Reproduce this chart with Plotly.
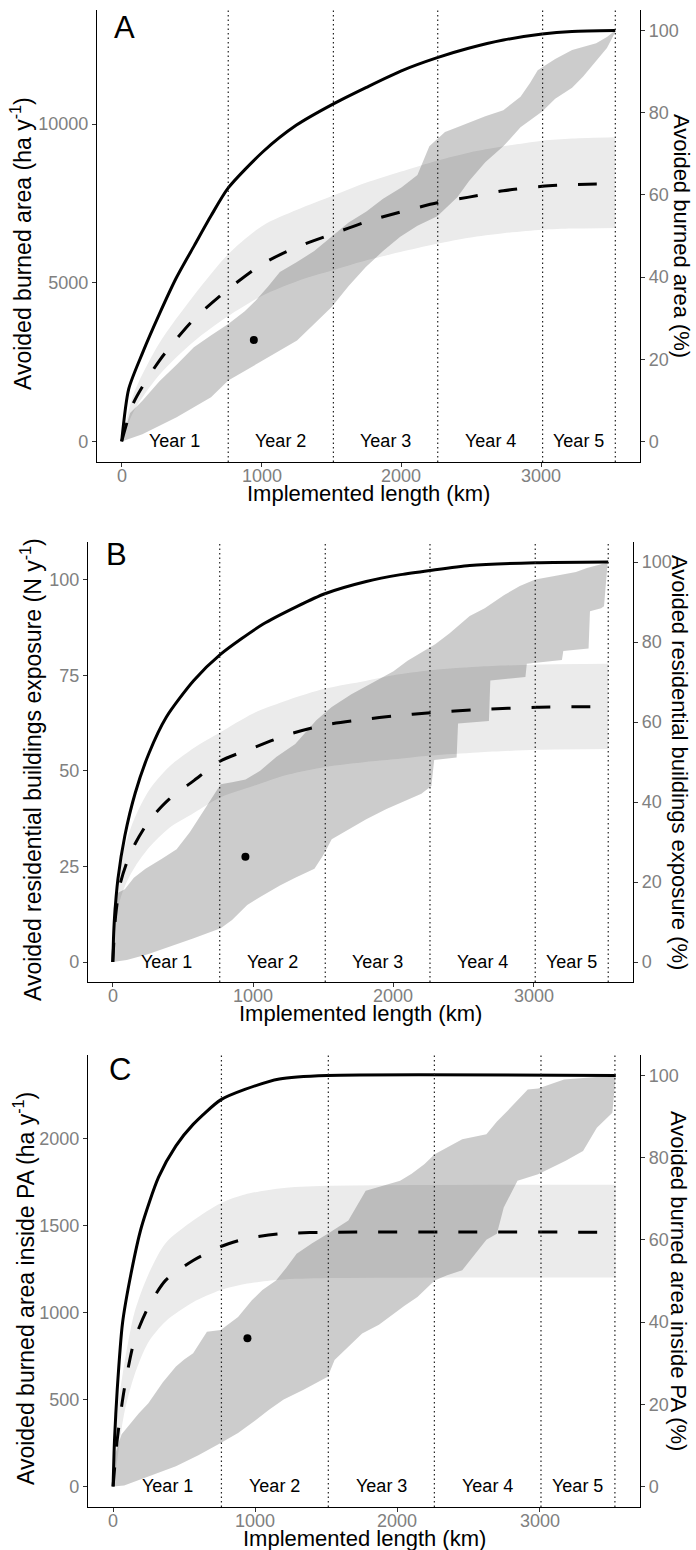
import plotly.graph_objects as go

W, H = 696, 1550
FONT = "Liberation Sans, Arial, sans-serif"

# ---------------- data ----------------
YEAR_BREAKS = [762, 1514, 2260, 3010, 3530]
YEAR_LABELS = ["Year 1", "Year 2", "Year 3", "Year 4", "Year 5"]
X_TICKS = [0, 1000, 2000, 3000]
PCT_TICKS = [0, 20, 40, 60, 80, 100]
POINT_X = 945

# Panel A : avoided burned area (ha y-1)
A_TICKS = [0, 5000, 10000]
A_SOLID_X = [0, 50, 150, 270, 390, 520, 640, 762, 1010, 1250, 1514, 1750, 2000, 2257, 2480, 2730, 3007, 3220, 3530]
A_SOLID_Y = [0, 1650, 2800, 4020, 5150, 6180, 7120, 7990, 9130, 9970, 10640, 11160, 11680, 12095, 12390, 12650, 12840, 12920, 12950]
A_MEAN_X = [0, 86, 270, 516, 762, 1008, 1254, 1514, 1746, 1992, 2257, 2483, 2729, 3007, 3221, 3529]
A_MEAN_Y = [0, 1230, 2550, 3850, 4800, 5600, 6130, 6550, 6920, 7230, 7520, 7700, 7900, 8040, 8095, 8120]
A_MEAN_HI = [0, 1500, 3100, 4600, 5900, 6800, 7300, 7750, 8150, 8500, 8850, 9100, 9300, 9480, 9550, 9590]
A_MEAN_LO = [0, 950, 2100, 3150, 3950, 4600, 5050, 5400, 5700, 5970, 6230, 6420, 6560, 6670, 6710, 6730]
A_RAND_HI_X = [0, 60, 148, 270, 400, 516, 640, 762, 880, 959, 1050, 1131, 1250, 1377, 1500, 1623, 1750, 1869, 2000, 2115, 2200, 2312, 2400, 2483, 2600, 2729, 2800, 2852, 2920, 2975, 3100, 3221, 3393, 3470, 3529]
A_RAND_HI_Y = [0, 900, 1280, 1900, 2450, 2970, 3350, 3700, 4100, 4440, 4900, 5340, 5650, 6000, 6450, 6900, 7250, 7650, 8000, 8400, 9300, 9750, 9900, 10050, 10250, 10440, 10700, 10860, 11300, 11700, 12050, 12340, 12550, 12750, 12950]
A_RAND_LO_X = [0, 148, 393, 639, 762, 1008, 1254, 1500, 1623, 1746, 1869, 1992, 2115, 2257, 2400, 2483, 2600, 2729, 2852, 3007, 3100, 3221, 3300, 3393, 3470, 3529]
A_RAND_LO_Y = [0, 230, 760, 1390, 1920, 2550, 3180, 4230, 4900, 5500, 6000, 6450, 6800, 7100, 7700, 8200, 8800, 9300, 9900, 10400, 10800, 11150, 11500, 12000, 12400, 12900]
A_POINT_Y = 3200

# Panel B : avoided residential buildings exposure (N y-1)
B_TICKS = [0, 25, 50, 75, 100]
B_SOLID_X = [0, 5, 12, 37, 86, 160, 258, 381, 577, 769, 1069, 1314, 1511, 1806, 2051, 2260, 2543, 3010, 3530]
B_SOLID_Y = [0, 6, 11.4, 21.8, 33, 44.2, 54.6, 64, 73.6, 80.5, 88.3, 93, 96.3, 99.5, 101.3, 102.4, 103.7, 104.4, 104.6]
B_MEAN_X = [0, 20, 50, 100, 160, 260, 400, 580, 764, 1000, 1250, 1514, 1800, 2000, 2264, 2600, 3021, 3530]
B_MEAN_Y = [0, 12, 20, 26, 31, 37, 42.5, 47.5, 52.5, 56, 59.5, 62, 63.5, 64.3, 65.2, 66, 66.6, 66.8]
B_MEAN_HI = [0, 15, 25, 32, 38, 45, 51, 56, 60, 65, 68.5, 71.5, 73.5, 75, 76.3, 77.2, 77.8, 78]
B_MEAN_LO = [0, 9, 16, 21, 25, 30, 35, 39, 43, 46, 49, 51, 52.3, 53, 54, 54.8, 55.5, 55.7]
B_RAND_HI_X = [0, 5, 30, 86, 150, 233, 350, 455, 550, 651, 769, 850, 946, 1050, 1167, 1300, 1450, 1560, 1700, 1880, 2000, 2100, 2200, 2297, 2400, 2543, 2650, 2789, 2900, 3010, 3157, 3300, 3378, 3526]
B_RAND_HI_Y = [0, 14, 18, 19, 22, 24.4, 27, 29.5, 34, 39.9, 46.5, 47, 47.7, 50, 53.7, 57, 63.2, 66.7, 70, 73.6, 76, 78.8, 81, 83.1, 86, 90.5, 92.5, 96, 98.3, 100, 101, 102, 103, 104.5]
B_RAND_LO_X = [0, 100, 250, 400, 577, 769, 850, 958, 1050, 1191, 1300, 1437, 1500, 1560, 1700, 1806, 1950, 2051, 2199, 2270, 2290, 2450, 2460, 2680, 2690, 2940, 2950, 3200, 3210, 3390, 3400, 3480, 3500, 3526]
B_RAND_LO_Y = [0, 0.5, 2, 4, 6.2, 8.8, 11, 14.9, 17, 20, 22, 24.4, 28, 32.1, 35, 37.3, 40, 41.6, 44, 46, 52.8, 53.5, 62.4, 63, 73.6, 74.5, 78, 79, 81.3, 82, 91.7, 92.5, 93, 104.5]
B_POINT_Y = 27.5

# Panel C : avoided burned area inside PA (ha y-1)
C_TICKS = [0, 500, 1000, 1500, 2000]
C_SOLID_X = [0, 10, 29, 66, 126, 199, 320, 442, 563, 757, 927, 1170, 1505, 3536]
C_SOLID_Y = [0, 269, 556, 938, 1224, 1492, 1780, 1960, 2084, 2225, 2285, 2345, 2365, 2365]
C_MEAN_X = [0, 29, 78, 150, 248, 369, 563, 757, 927, 1170, 1505, 3536]
C_MEAN_Y = [0, 269, 556, 842, 1033, 1186, 1301, 1380, 1425, 1454, 1463, 1463]
C_MEAN_HI = [0, 420, 700, 1000, 1220, 1400, 1530, 1630, 1680, 1715, 1730, 1736]
C_MEAN_LO = [0, 150, 420, 640, 830, 950, 1060, 1130, 1165, 1190, 1200, 1202]
C_RAND_HI_X = [0, 17, 60, 126, 180, 248, 350, 442, 500, 563, 660, 757, 879, 976, 1050, 1146, 1220, 1291, 1400, 1510, 1600, 1655, 1777, 1900, 2019, 2100, 2189, 2262, 2350, 2456, 2626, 2700, 2772, 2850, 2917, 2990, 3100, 3172, 3536]
C_RAND_HI_Y = [0, 193, 300, 365, 420, 479, 600, 690, 730, 766, 890, 900, 976, 1072, 1130, 1186, 1260, 1339, 1400, 1454, 1500, 1530, 1702, 1730, 1759, 1800, 1855, 1912, 1950, 1998, 2027, 2100, 2160, 2230, 2285, 2290, 2320, 2342, 2365]
C_RAND_LO_X = [0, 78, 248, 442, 600, 757, 879, 1000, 1097, 1200, 1340, 1510, 1558, 1650, 1752, 1870, 1947, 2050, 2141, 2262, 2350, 2456, 2626, 2700, 2748, 2845, 2990, 3100, 3184, 3306, 3403, 3512, 3536]
C_RAND_LO_Y = [0, 6, 59, 117, 180, 250, 308, 380, 441, 500, 556, 632, 728, 800, 881, 930, 976, 1040, 1091, 1186, 1215, 1244, 1420, 1455, 1606, 1759, 1797, 1840, 1874, 1931, 2065, 2151, 2365]
C_POINT_Y = 853

# ---------------- layout geometry (pixels) ----------------
PANELS = [
    dict(key="A", solid=(A_SOLID_X, A_SOLID_Y), mean=(A_MEAN_X, A_MEAN_Y, A_MEAN_HI, A_MEAN_LO),
         rand=(A_RAND_HI_X, A_RAND_HI_Y, A_RAND_LO_X, A_RAND_LO_Y), pt=A_POINT_Y, ticks=A_TICKS,
         box=(97, 640, 10, 462), letter=(125, 27),
         ytitle="Avoided burned area (ha y<sup>-1</sup>)", ytitle_x=21,
         rtitle="Avoided burned area (%)", rtitle_x=681),
    dict(key="B", solid=(B_SOLID_X, B_SOLID_Y), mean=(B_MEAN_X, B_MEAN_Y, B_MEAN_HI, B_MEAN_LO),
         rand=(B_RAND_HI_X, B_RAND_HI_Y, B_RAND_LO_X, B_RAND_LO_Y), pt=B_POINT_Y, ticks=B_TICKS,
         box=(88, 633, 542, 982), letter=(116, 554),
         ytitle="Avoided residential buildings exposure (N y<sup>-1</sup>)", ytitle_x=31,
         rtitle="Avoided residential buildings exposure (%)", rtitle_x=680),
    dict(key="C", solid=(C_SOLID_X, C_SOLID_Y), mean=(C_MEAN_X, C_MEAN_Y, C_MEAN_HI, C_MEAN_LO),
         rand=(C_RAND_HI_X, C_RAND_HI_Y, C_RAND_LO_X, C_RAND_LO_Y), pt=C_POINT_Y, ticks=C_TICKS,
         box=(88, 640, 1055, 1507), letter=(120, 1069),
         ytitle="Avoided burned area inside PA (ha y<sup>-1</sup>)", ytitle_x=24,
         rtitle="Avoided burned area inside PA (%)", rtitle_x=679),
]


def fx(px):
    return px / W


def fy(py):
    return 1 - py / H


fig = go.Figure()
layout = dict(
    width=W, height=H, margin=dict(l=0, r=0, t=0, b=0),
    paper_bgcolor="white", plot_bgcolor="white", showlegend=False,
    font=dict(family=FONT, color="black"),
)
annotations = []
shapes = []

x_max = max(YEAR_BREAKS)
x_range = [-0.05 * x_max, 1.05 * x_max]
TICK_FONT = dict(family=FONT, size=18, color="#808080")

for i, p in enumerate(PANELS):
    n = i + 1
    xa = "x" if n == 1 else f"x{n}"
    ya = "y" if n == 1 else f"y{n}"
    ra = f"y{n + 3}"
    xk = "xaxis" if n == 1 else f"xaxis{n}"
    yk = "yaxis" if n == 1 else f"yaxis{n}"
    rk = f"yaxis{n + 3}"
    x0, x1, y0, y1 = p["box"]

    sx, sy = p["solid"]
    mx, my, mhi, mlo = p["mean"]
    hx, hy, lx, ly = p["rand"]
    total = max(sy)
    y_range = [-0.05 * total, 1.05 * total]

    # light ribbon around mean curve (lower edge, then upper edge filled to it)
    fig.add_trace(go.Scatter(x=mx, y=mlo, xaxis=xa, yaxis=ya, mode="lines",
                             line=dict(width=0, color="rgba(0,0,0,0)", shape="spline", smoothing=0.8),
                             hoverinfo="skip"))
    fig.add_trace(go.Scatter(x=mx, y=mhi, xaxis=xa, yaxis=ya, mode="lines", fill="tonexty",
                             fillcolor="#EBEBEB",
                             line=dict(width=0, color="rgba(0,0,0,0)", shape="spline", smoothing=0.8),
                             hoverinfo="skip"))
    # ribbon of random rankings
    fig.add_trace(go.Scatter(x=hx + lx[::-1], y=hy + ly[::-1], xaxis=xa, yaxis=ya,
                             mode="lines", fill="toself", fillcolor="rgba(0,0,0,0.2)",
                             line=dict(width=0, color="rgba(0,0,0,0)"), hoverinfo="skip"))
    # optimal curve
    fig.add_trace(go.Scatter(x=sx, y=sy, xaxis=xa, yaxis=ya, mode="lines",
                             line=dict(color="black", width=3, shape="spline", smoothing=0.7)))
    # mean curve
    fig.add_trace(go.Scatter(x=mx, y=my, xaxis=xa, yaxis=ya, mode="lines",
                             line=dict(color="black", width=3, dash="19px,21px", shape="spline", smoothing=0.7)))
    # point
    fig.add_trace(go.Scatter(x=[POINT_X], y=[p["pt"]], xaxis=xa, yaxis=ya, mode="markers",
                             marker=dict(color="black", size=8)))
    # dummy for right axis
    fig.add_trace(go.Scatter(x=[None], y=[None], xaxis=xa, yaxis=ra, mode="lines"))

    common = dict(showgrid=False, zeroline=False, showline=True, linecolor="black", linewidth=1.3,
                  ticks="outside", ticklen=4, tickwidth=1, tickcolor="#333333", tickfont=TICK_FONT)
    layout[xk] = dict(domain=[fx(x0), fx(x1)], anchor=ya, range=x_range, tickvals=X_TICKS,
                      showticklabels=False, **common)
    layout[yk] = dict(domain=[fy(y1), fy(y0)], anchor=xa, range=y_range, tickvals=p["ticks"],
                      ticktext=[str(t) for t in p["ticks"]], **common)
    layout[rk] = dict(overlaying=ya, side="right", anchor=xa,
                      range=[y_range[0] / total * 100, y_range[1] / total * 100],
                      tickvals=PCT_TICKS, ticktext=[str(t) for t in PCT_TICKS], **common)

    # x tick labels placed close to the axis
    for t in X_TICKS:
        annotations.append(dict(x=t, y=fy(y1 + 14), xref=xa, yref="paper", text=str(t),
                                showarrow=False, font=TICK_FONT, xanchor="center", yanchor="middle"))

    # year boundaries
    for b in YEAR_BREAKS:
        shapes.append(dict(type="line", xref=xa, yref=f"{ya} domain", x0=b, x1=b, y0=0, y1=1,
                           line=dict(color="#222222", width=1.2, dash="1.5px,3px"), layer="above"))
    starts = [0] + YEAR_BREAKS[:-1]
    for s, e, lab in zip(starts, YEAR_BREAKS, YEAR_LABELS):
        annotations.append(dict(x=(s + e) / 2, y=0, xref=xa, yref=ya, text=lab, showarrow=False,
                                font=dict(family=FONT, size=18, color="black"),
                                xanchor="center", yanchor="middle"))

    # titles
    annotations.append(dict(x=fx((x0 + x1) / 2), y=fy(y1 + 31), xref="paper", yref="paper",
                            text="Implemented length (km)", showarrow=False,
                            font=dict(family=FONT, size=22, color="black"),
                            xanchor="center", yanchor="middle"))
    annotations.append(dict(x=fx(p["ytitle_x"]), y=fy((y0 + y1) / 2 + 8), xref="paper", yref="paper",
                            text=p["ytitle"], showarrow=False, textangle=-90,
                            font=dict(family=FONT, size=23, color="black"),
                            xanchor="center", yanchor="middle"))
    annotations.append(dict(x=fx(p["rtitle_x"]), y=fy((y0 + y1) / 2), xref="paper", yref="paper",
                            text=p["rtitle"], showarrow=False, textangle=90,
                            font=dict(family=FONT, size=22, color="black"),
                            xanchor="center", yanchor="middle"))
    lx_, ly_ = p["letter"]
    annotations.append(dict(x=fx(lx_), y=fy(ly_), xref="paper", yref="paper", text=p["key"],
                            showarrow=False, font=dict(family=FONT, size=31, color="black"),
                            xanchor="center", yanchor="middle"))

layout["annotations"] = annotations
layout["shapes"] = shapes
fig.update_layout(**layout)
fig.write_html("out.html", config={"displayModeBar": False},
               post_script="document.body.style.margin='0px';document.body.style.overflow='hidden';")
